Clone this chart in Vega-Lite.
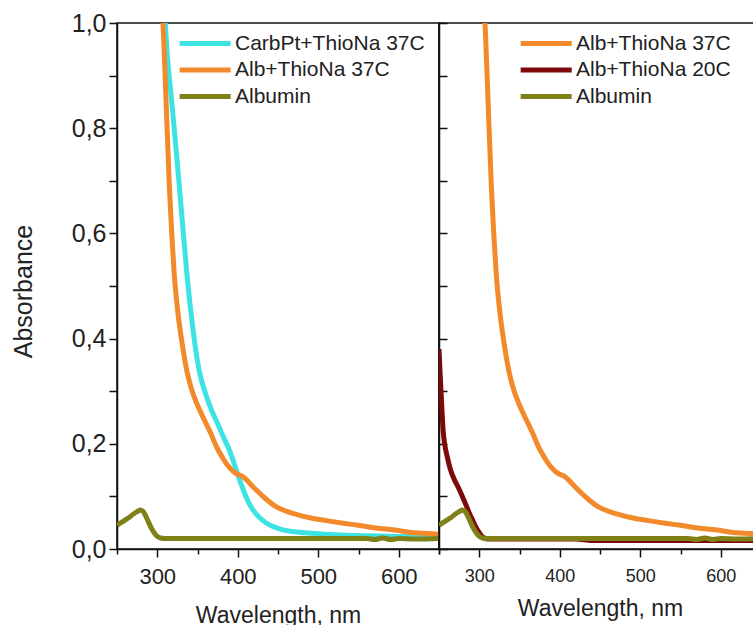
{
  "$schema": "https://vega.github.io/schema/vega-lite/v6.json",
  "autosize": {"type": "pad"},
  "padding": {"left": 10, "top": 10, "right": 0, "bottom": 0},
  "background": "white",
  "spacing": 0,
  "bounds": "flush",
  "config": {
    "font": "Liberation Sans",
    "view": {"stroke": "#111111", "strokeWidth": 1.5},
    "axis": {
      "grid": false,
      "domainColor": "#111111",
      "domainWidth": 1.5,
      "tickColor": "#111111",
      "tickWidth": 1.5,
      "labelColor": "#222222",
      "titleColor": "#222222",
      "labelFont": "Liberation Sans",
      "titleFont": "Liberation Sans",
      "titleFontWeight": "normal",
      "labelOverlap": false,
      "labelFlush": false
    },
    "legend": {
      "orient": "none",
      "padding": 0,
      "labelFont": "Liberation Sans",
      "labelFontSize": 21,
      "labelColor": "#222222",
      "labelLimit": 0,
      "labelOffset": 4,
      "rowPadding": 2.5,
      "symbolSize": 484,
      "symbolStrokeWidth": 5,
      "symbolType": "M-3.44,0H1.2"
    }
  },
  "datasets": {
    "spectra": [
      {"series": "CarbPt+ThioNa 37C", "wl": 308, "abs": 1.05},
      {"series": "CarbPt+ThioNa 37C", "wl": 310, "abs": 1.0},
      {"series": "CarbPt+ThioNa 37C", "wl": 312, "abs": 0.95},
      {"series": "CarbPt+ThioNa 37C", "wl": 318, "abs": 0.85},
      {"series": "CarbPt+ThioNa 37C", "wl": 324, "abs": 0.75},
      {"series": "CarbPt+ThioNa 37C", "wl": 331, "abs": 0.625},
      {"series": "CarbPt+ThioNa 37C", "wl": 337, "abs": 0.52},
      {"series": "CarbPt+ThioNa 37C", "wl": 343, "abs": 0.435},
      {"series": "CarbPt+ThioNa 37C", "wl": 352, "abs": 0.34},
      {"series": "CarbPt+ThioNa 37C", "wl": 360, "abs": 0.295},
      {"series": "CarbPt+ThioNa 37C", "wl": 368, "abs": 0.262},
      {"series": "CarbPt+ThioNa 37C", "wl": 376, "abs": 0.235},
      {"series": "CarbPt+ThioNa 37C", "wl": 383, "abs": 0.21},
      {"series": "CarbPt+ThioNa 37C", "wl": 389, "abs": 0.19},
      {"series": "CarbPt+ThioNa 37C", "wl": 395, "abs": 0.165},
      {"series": "CarbPt+ThioNa 37C", "wl": 401, "abs": 0.137},
      {"series": "CarbPt+ThioNa 37C", "wl": 408, "abs": 0.108},
      {"series": "CarbPt+ThioNa 37C", "wl": 414, "abs": 0.087},
      {"series": "CarbPt+ThioNa 37C", "wl": 420, "abs": 0.072},
      {"series": "CarbPt+ThioNa 37C", "wl": 427, "abs": 0.06},
      {"series": "CarbPt+ThioNa 37C", "wl": 435, "abs": 0.05},
      {"series": "CarbPt+ThioNa 37C", "wl": 445, "abs": 0.042},
      {"series": "CarbPt+ThioNa 37C", "wl": 455, "abs": 0.037},
      {"series": "CarbPt+ThioNa 37C", "wl": 476, "abs": 0.032},
      {"series": "CarbPt+ThioNa 37C", "wl": 492, "abs": 0.03},
      {"series": "CarbPt+ThioNa 37C", "wl": 520, "abs": 0.027},
      {"series": "CarbPt+ThioNa 37C", "wl": 560, "abs": 0.025},
      {"series": "CarbPt+ThioNa 37C", "wl": 600, "abs": 0.024},
      {"series": "CarbPt+ThioNa 37C", "wl": 650, "abs": 0.023},

      {"series": "Alb+ThioNa 37C", "wl": 304, "abs": 1.15},
      {"series": "Alb+ThioNa 37C", "wl": 306, "abs": 1.04},
      {"series": "Alb+ThioNa 37C", "wl": 308, "abs": 0.97},
      {"series": "Alb+ThioNa 37C", "wl": 311, "abs": 0.85},
      {"series": "Alb+ThioNa 37C", "wl": 315, "abs": 0.69},
      {"series": "Alb+ThioNa 37C", "wl": 318, "abs": 0.6},
      {"series": "Alb+ThioNa 37C", "wl": 321, "abs": 0.525},
      {"series": "Alb+ThioNa 37C", "wl": 326, "abs": 0.445},
      {"series": "Alb+ThioNa 37C", "wl": 330, "abs": 0.4},
      {"series": "Alb+ThioNa 37C", "wl": 337, "abs": 0.337},
      {"series": "Alb+ThioNa 37C", "wl": 343, "abs": 0.302},
      {"series": "Alb+ThioNa 37C", "wl": 349, "abs": 0.277},
      {"series": "Alb+ThioNa 37C", "wl": 357, "abs": 0.25},
      {"series": "Alb+ThioNa 37C", "wl": 367, "abs": 0.218},
      {"series": "Alb+ThioNa 37C", "wl": 373, "abs": 0.196},
      {"series": "Alb+ThioNa 37C", "wl": 381, "abs": 0.174},
      {"series": "Alb+ThioNa 37C", "wl": 389, "abs": 0.156},
      {"series": "Alb+ThioNa 37C", "wl": 395, "abs": 0.147},
      {"series": "Alb+ThioNa 37C", "wl": 400, "abs": 0.142},
      {"series": "Alb+ThioNa 37C", "wl": 405, "abs": 0.139},
      {"series": "Alb+ThioNa 37C", "wl": 410, "abs": 0.133},
      {"series": "Alb+ThioNa 37C", "wl": 416, "abs": 0.123},
      {"series": "Alb+ThioNa 37C", "wl": 423, "abs": 0.112},
      {"series": "Alb+ThioNa 37C", "wl": 435, "abs": 0.095},
      {"series": "Alb+ThioNa 37C", "wl": 447, "abs": 0.081},
      {"series": "Alb+ThioNa 37C", "wl": 460, "abs": 0.072},
      {"series": "Alb+ThioNa 37C", "wl": 475, "abs": 0.065},
      {"series": "Alb+ThioNa 37C", "wl": 488, "abs": 0.06},
      {"series": "Alb+ThioNa 37C", "wl": 510, "abs": 0.054},
      {"series": "Alb+ThioNa 37C", "wl": 531, "abs": 0.049},
      {"series": "Alb+ThioNa 37C", "wl": 550, "abs": 0.045},
      {"series": "Alb+ThioNa 37C", "wl": 572, "abs": 0.04},
      {"series": "Alb+ThioNa 37C", "wl": 595, "abs": 0.036},
      {"series": "Alb+ThioNa 37C", "wl": 613, "abs": 0.032},
      {"series": "Alb+ThioNa 37C", "wl": 630, "abs": 0.03},
      {"series": "Alb+ThioNa 37C", "wl": 650, "abs": 0.028},

      {"series": "Alb+ThioNa 20C", "wl": 250, "abs": 0.38},
      {"series": "Alb+ThioNa 20C", "wl": 251.5, "abs": 0.33},
      {"series": "Alb+ThioNa 20C", "wl": 253, "abs": 0.285},
      {"series": "Alb+ThioNa 20C", "wl": 255, "abs": 0.228},
      {"series": "Alb+ThioNa 20C", "wl": 257, "abs": 0.2},
      {"series": "Alb+ThioNa 20C", "wl": 260, "abs": 0.177},
      {"series": "Alb+ThioNa 20C", "wl": 264, "abs": 0.152},
      {"series": "Alb+ThioNa 20C", "wl": 269, "abs": 0.132},
      {"series": "Alb+ThioNa 20C", "wl": 274, "abs": 0.117},
      {"series": "Alb+ThioNa 20C", "wl": 279, "abs": 0.1},
      {"series": "Alb+ThioNa 20C", "wl": 284, "abs": 0.082},
      {"series": "Alb+ThioNa 20C", "wl": 288, "abs": 0.067},
      {"series": "Alb+ThioNa 20C", "wl": 292, "abs": 0.054},
      {"series": "Alb+ThioNa 20C", "wl": 296, "abs": 0.041},
      {"series": "Alb+ThioNa 20C", "wl": 300, "abs": 0.031},
      {"series": "Alb+ThioNa 20C", "wl": 304, "abs": 0.023},
      {"series": "Alb+ThioNa 20C", "wl": 310, "abs": 0.019},
      {"series": "Alb+ThioNa 20C", "wl": 420, "abs": 0.019},
      {"series": "Alb+ThioNa 20C", "wl": 440, "abs": 0.016},
      {"series": "Alb+ThioNa 20C", "wl": 650, "abs": 0.016},

      {"series": "Albumin", "wl": 250, "abs": 0.045},
      {"series": "Albumin", "wl": 255, "abs": 0.05},
      {"series": "Albumin", "wl": 260, "abs": 0.055},
      {"series": "Albumin", "wl": 265, "abs": 0.06},
      {"series": "Albumin", "wl": 270, "abs": 0.066},
      {"series": "Albumin", "wl": 275, "abs": 0.071},
      {"series": "Albumin", "wl": 279, "abs": 0.074},
      {"series": "Albumin", "wl": 282, "abs": 0.072},
      {"series": "Albumin", "wl": 285, "abs": 0.065},
      {"series": "Albumin", "wl": 288, "abs": 0.055},
      {"series": "Albumin", "wl": 291, "abs": 0.045},
      {"series": "Albumin", "wl": 294, "abs": 0.036},
      {"series": "Albumin", "wl": 297, "abs": 0.029},
      {"series": "Albumin", "wl": 300, "abs": 0.024},
      {"series": "Albumin", "wl": 304, "abs": 0.021},
      {"series": "Albumin", "wl": 310, "abs": 0.02},
      {"series": "Albumin", "wl": 400, "abs": 0.02},
      {"series": "Albumin", "wl": 500, "abs": 0.02},
      {"series": "Albumin", "wl": 560, "abs": 0.02},
      {"series": "Albumin", "wl": 570, "abs": 0.018},
      {"series": "Albumin", "wl": 580, "abs": 0.021},
      {"series": "Albumin", "wl": 590, "abs": 0.018},
      {"series": "Albumin", "wl": 600, "abs": 0.02},
      {"series": "Albumin", "wl": 620, "abs": 0.019},
      {"series": "Albumin", "wl": 650, "abs": 0.02}
    ]
  },
  "hconcat": [
    {
      "width": 322,
      "height": 526,
      "data": {"name": "spectra"},
      "encoding": {
        "x": {
          "field": "wl",
          "type": "quantitative",
          "scale": {"domain": [250, 650], "nice": false, "zero": false},
          "axis": {
            "values": [250, 300, 350, 400, 450, 500, 550, 600, 650],
            "labelExpr": "datum.value % 100 === 0 ? datum.label : ''",
            "format": "d",
            "tickSize": {"condition": {"test": "datum.value % 100 === 0", "value": 8}, "value": 5},
            "labelFontSize": 22,
            "labelPadding": 9,
            "labelBaseline": "top",
            "title": "Wavelength, nm",
            "titleFontSize": 23,
            "titleBaseline": "alphabetic",
            "titleY": 73
          }
        },
        "y": {
          "field": "abs",
          "type": "quantitative",
          "scale": {"domain": [0, 1], "nice": false},
          "axis": {
            "values": [0, 0.1, 0.2, 0.3, 0.4, 0.5, 0.6, 0.7, 0.8, 0.9, 1.0],
            "labelExpr": "round(datum.value * 10) % 2 === 0 ? replace(format(datum.value, '.1f'), '.', ',') : ''",
            "tickSize": 8,
            "labelFontSize": 25,
            "labelPadding": 3,
            "title": "Absorbance",
            "titleFontSize": 25,
            "titleAngle": -90,
            "titleAlign": "center",
            "titleBaseline": "alphabetic",
            "titleX": -86,
            "titleY": 268
          }
        },
        "color": {
          "field": "series",
          "type": "nominal",
          "scale": {
            "domain": ["CarbPt+ThioNa 37C", "Alb+ThioNa 37C", "Albumin"],
            "range": ["#3DE3E3", "#F28A2B", "#808019"]
          },
          "legend": {"title": null, "legendX": 87, "legendY": 7}
        }
      },
      "layer": [
        {
          "transform": [{"filter": "datum.series === 'CarbPt+ThioNa 37C'"}],
          "mark": {"type": "line", "strokeWidth": 5, "clip": true, "interpolate": "monotone"}
        },
        {
          "transform": [{"filter": "datum.series === 'Alb+ThioNa 37C'"}],
          "mark": {"type": "line", "strokeWidth": 5, "clip": true, "interpolate": "monotone"}
        },
        {
          "transform": [{"filter": "datum.series === 'Albumin'"}],
          "mark": {"type": "line", "strokeWidth": 5, "clip": true, "interpolate": "monotone"}
        }
      ]
    },
    {
      "width": 322,
      "height": 526,
      "data": {"name": "spectra"},
      "encoding": {
        "x": {
          "field": "wl",
          "type": "quantitative",
          "scale": {"domain": [250, 650], "nice": false, "zero": false},
          "axis": {
            "values": [250, 300, 350, 400, 450, 500, 550, 600, 650],
            "labelExpr": "datum.value % 100 === 0 ? datum.label : ''",
            "format": "d",
            "tickSize": {"condition": {"test": "datum.value % 100 === 0", "value": 8}, "value": 5},
            "labelFontSize": 18,
            "labelPadding": 10,
            "labelBaseline": "top",
            "title": "Wavelength, nm",
            "titleFontSize": 23,
            "titleBaseline": "alphabetic",
            "titleY": 66
          }
        },
        "y": {
          "field": "abs",
          "type": "quantitative",
          "scale": {"domain": [0, 1], "nice": false},
          "axis": {
            "values": [0, 0.1, 0.2, 0.3, 0.4, 0.5, 0.6, 0.7, 0.8, 0.9, 1.0],
            "labels": false,
            "tickSize": -8,
            "title": null
          }
        },
        "color": {
          "field": "series",
          "type": "nominal",
          "scale": {
            "domain": ["Alb+ThioNa 37C", "Alb+ThioNa 20C", "Albumin"],
            "range": ["#F28A2B", "#7D0A0A", "#808019"]
          },
          "legend": {"title": null, "legendX": 106, "legendY": 7}
        }
      },
      "layer": [
        {
          "transform": [{"filter": "datum.series === 'Alb+ThioNa 37C'"}],
          "mark": {"type": "line", "strokeWidth": 5, "clip": true, "interpolate": "monotone"}
        },
        {
          "transform": [{"filter": "datum.series === 'Alb+ThioNa 20C'"}],
          "mark": {"type": "line", "strokeWidth": 5, "clip": true, "interpolate": "monotone"}
        },
        {
          "transform": [{"filter": "datum.series === 'Albumin'"}],
          "mark": {"type": "line", "strokeWidth": 5, "clip": true, "interpolate": "monotone"}
        }
      ]
    }
  ],
  "resolve": {
    "scale": {"color": "independent", "x": "independent", "y": "independent"},
    "legend": {"color": "independent"}
  }
}
